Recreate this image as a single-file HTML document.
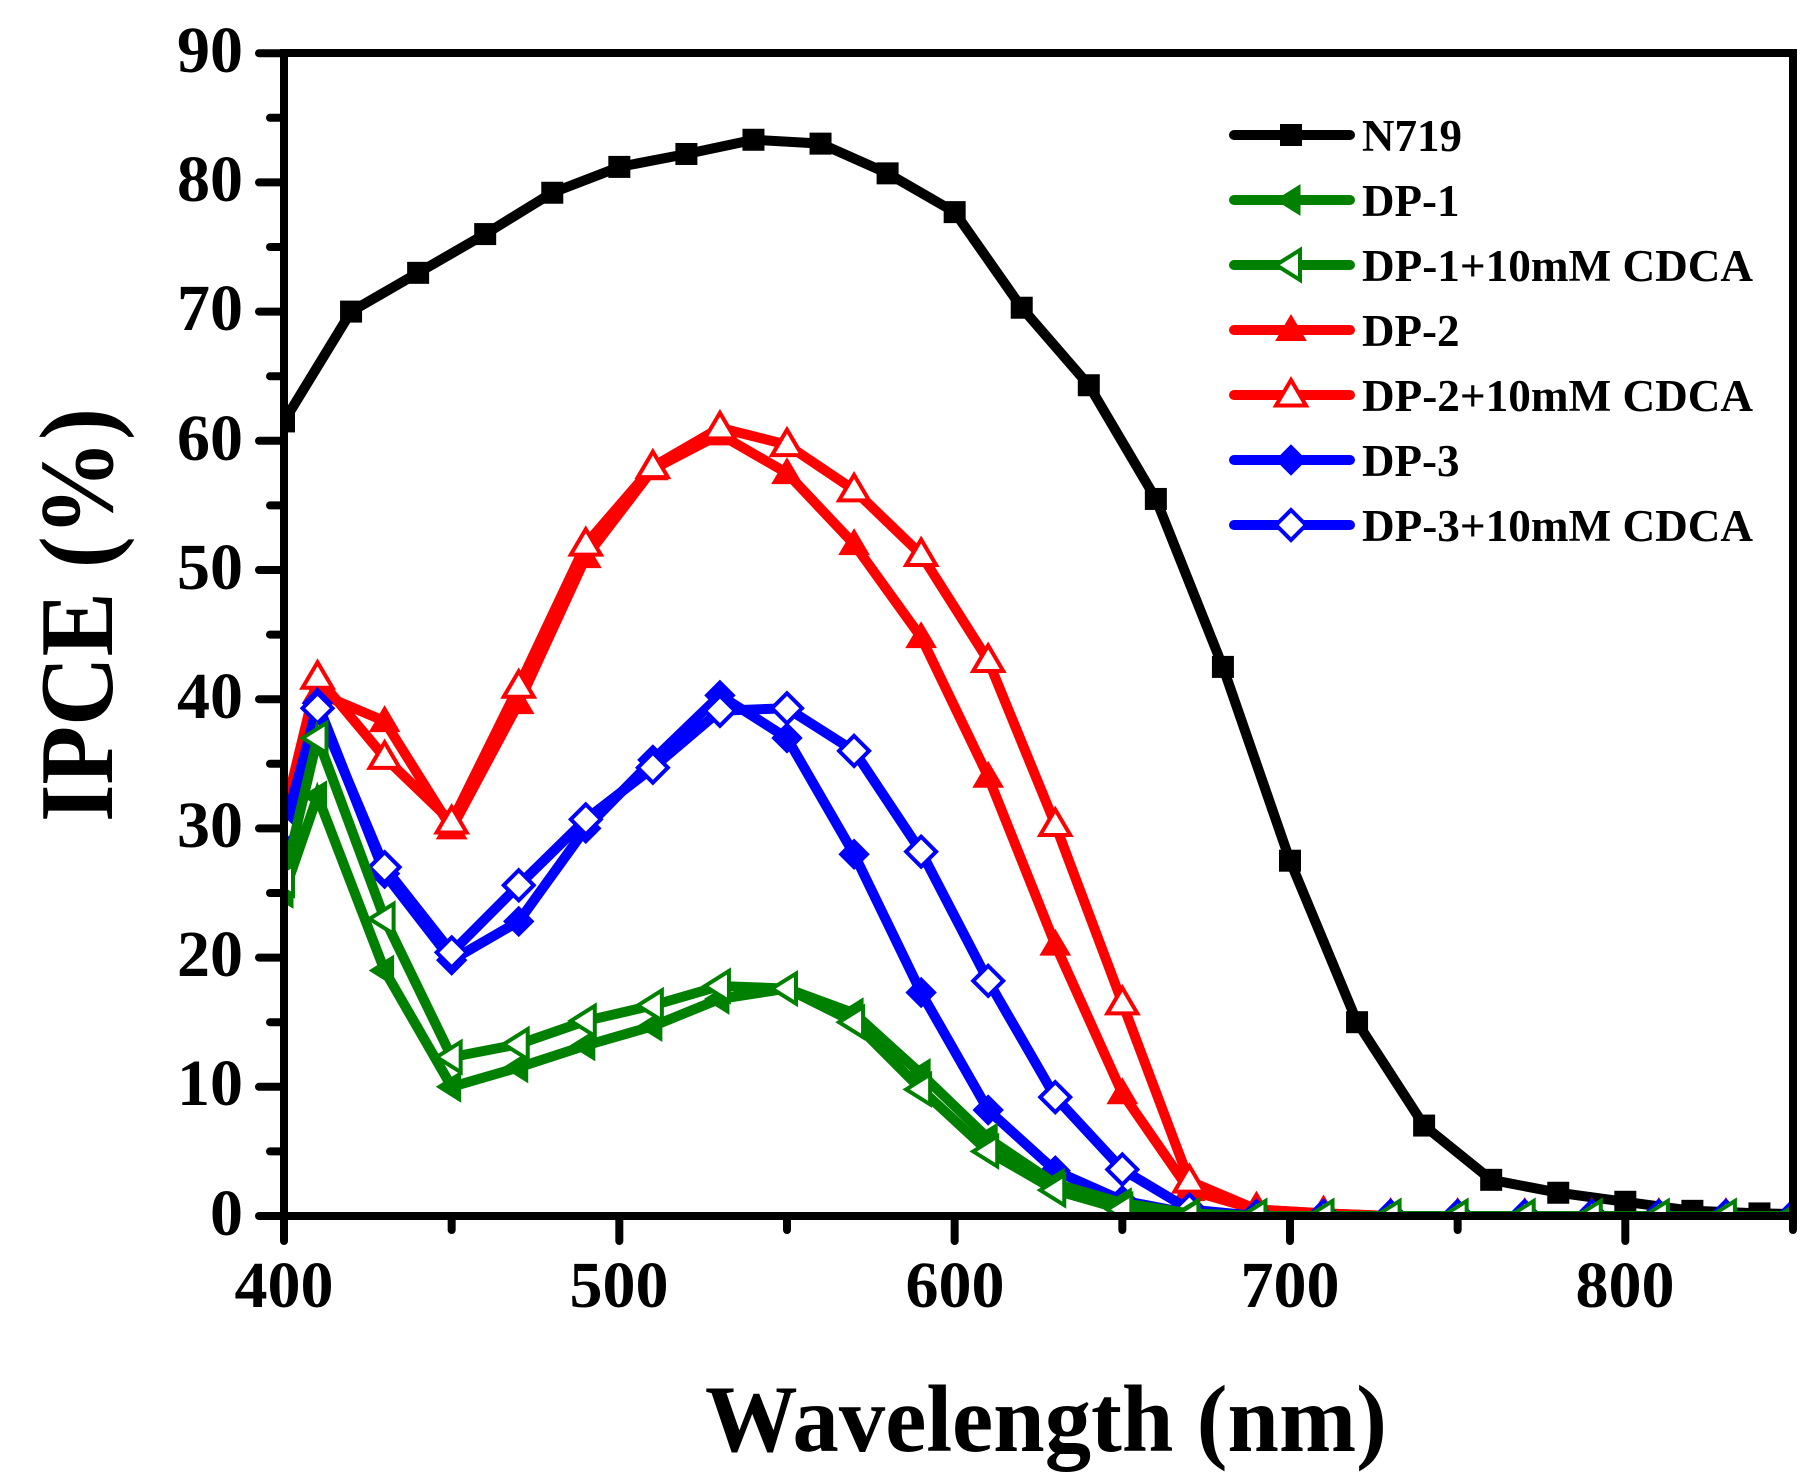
<!DOCTYPE html>
<html><head><meta charset="utf-8"><style>
html,body{margin:0;padding:0;background:#fff;}
svg{display:block;}
text{font-family:"Liberation Serif",serif;font-weight:bold;fill:#000;}
</style></head><body>
<svg id="s" width="1818" height="1479" viewBox="0 0 1818 1479" xmlns="http://www.w3.org/2000/svg">
<defs><clipPath id="c"><rect x="284" y="53" width="1509" height="1163"/></clipPath></defs>
<g id="series" clip-path="url(#c)"></g>
<g id="axes" stroke="#000" stroke-width="8" stroke-linecap="round" fill="none">
<rect x="284" y="53" width="1509" height="1163"/>
</g>
<g font-size="66" text-anchor="end">
<text x="243" y="72">90</text><text x="243" y="201">80</text><text x="243" y="330">70</text>
<text x="243" y="460">60</text><text x="243" y="589">50</text><text x="243" y="718">40</text>
<text x="243" y="847">30</text><text x="243" y="976">20</text><text x="243" y="1105">10</text>
<text x="243" y="1235">0</text>
</g>
<g font-size="66" text-anchor="middle">
<text x="284" y="1307">400</text><text x="619" y="1307">500</text><text x="955" y="1307">600</text>
<text x="1290" y="1307">700</text><text x="1625" y="1307">800</text>
</g>
<text x="1046" y="1451" font-size="95" text-anchor="middle" textLength="682" lengthAdjust="spacingAndGlyphs">Wavelength (nm)</text>
<text transform="translate(112,615) rotate(-90)" font-size="105" text-anchor="middle" textLength="414" lengthAdjust="spacingAndGlyphs">IPCE (%)</text>
<g id="legend"></g>
<g font-size="45">
<text x="1362" y="151">N719</text>
<text x="1362" y="216">DP-1</text>
<text x="1362" y="281" textLength="391" lengthAdjust="spacingAndGlyphs">DP-1+10mM CDCA</text>
<text x="1362" y="346">DP-2</text>
<text x="1362" y="411" textLength="391" lengthAdjust="spacingAndGlyphs">DP-2+10mM CDCA</text>
<text x="1362" y="476">DP-3</text>
<text x="1362" y="541" textLength="391" lengthAdjust="spacingAndGlyphs">DP-3+10mM CDCA</text>
</g>
</svg>
<script>
var NS="http://www.w3.org/2000/svg";
function X(n){return 284+(n-400)*3.3533;}
function Y(v){return 1216-v*12.92;}
function el(t,a,p){var e=document.createElementNS(NS,t);for(var k in a)e.setAttribute(k,a[k]);p.appendChild(e);return e;}
var axes=document.getElementById('axes');
for(var v=0;v<=90;v+=5){var L=(v%10==0)?25:14;el('line',{x1:284-L,y1:Y(v),x2:284,y2:Y(v)},axes);}
for(var n=400;n<=850;n+=50){var L=(n%100==0)?25:14;el('line',{x1:X(n),y1:1216,x2:X(n),y2:1216+L},axes);}
function marker(type,x,y,col,p){
 var s=15,fill=type.indexOf('o')==0?'#fff':col,sw=type.indexOf('o')==0?4:1;
 var t=type.replace(/^o/,'');var pts;
 if(t=='sq'){el('rect',{x:x-11,y:y-11,width:22,height:22,fill:col},p);return;}
 if(t=='lt')pts=[[x-s,y],[x+s*0.6,y-s],[x+s*0.6,y+s]];
 if(t=='up')pts=[[x,y-s],[x-s,y+s*0.7],[x+s,y+s*0.7]];
 if(t=='di')pts=[[x,y-s],[x+s,y],[x,y+s],[x-s,y]];
 el('polygon',{points:pts.map(function(q){return q.join(',')}).join(' '),fill:fill,stroke:col,'stroke-width':sw,'stroke-linejoin':'miter'},p);
}
var dpx=[400,410,430,450,470,490,510,530,550,570,590,610,630,650,670,690,710,730,750,770,790,810,830,850];
function pad(a){while(a.length<dpx.length)a.push(0);return a;}
var S=[
 {c:'#000',m:'sq',x:[400,420,440,460,480,500,520,540,560,580,600,620,640,660,680,700,720,740,760,780,800,820,840,860],
  y:[61.5,70,73,76,79.2,81.2,82.2,83.3,83,80.7,77.7,70.3,64.3,55.5,42.5,27.5,15,7,2.8,1.8,1.1,0.4,0.2,0.1]},
 {c:'#ff0000',m:'up',x:dpx,y:pad([31,40.5,38.3,30,39.7,51,57.8,60.5,57.5,52,44.8,34,21,9.5,2,0.5,0.2])},
 {c:'#ff0000',m:'oup',x:dpx,y:pad([31,41.7,35.5,30.5,41,52,58,61,59.7,56.2,51.2,43,30.3,16.5,2.7,0.5,0.2])},
 {c:'#0000ff',m:'di',x:dpx,y:pad([29,39.7,26.5,19.8,22.8,30,35.3,40.3,37,28,17.3,8.2,3.5,1.2,0.2])},
 {c:'#0000ff',m:'odi',x:dpx,y:pad([30,39.3,27,20.4,25.6,30.7,34.7,39.1,39.3,36,28.2,18.2,9.2,3.6,0.5])},
 {c:'#008000',m:'lt',x:dpx,y:pad([25,32.5,19,10,11.5,13.2,14.7,16.8,17.6,15.7,11,6,2.5,1,0.2])},
 {c:'#008000',m:'olt',x:dpx,y:pad([26,37,23,12.3,13.3,15.1,16.3,17.8,17.6,15,9.8,5,2,0.5,0])}
];
var g=document.getElementById('series');
S.forEach(function(s){
 var d=s.x.map(function(n,i){return (i?'L':'M')+X(n).toFixed(1)+','+Y(s.y[i]).toFixed(1)}).join('');
 el('path',{d:d,fill:'none',stroke:s.c,'stroke-width':10,'stroke-linejoin':'miter'},g);
 s.x.forEach(function(n,i){marker(s.m,X(n),Y(s.y[i]),s.c,g);});
});
var lg=document.getElementById('legend');
var rows=[135,200,265,330,395,460,525];
S.forEach(function(s,i){
 var order=[0,5,6,1,2,3,4];
 var t=S[order[i]];
 el('line',{x1:1234,y1:rows[i],x2:1350,y2:rows[i],stroke:t.c,'stroke-width':10,'stroke-linecap':'round'},lg);
 marker(t.m,1291,rows[i],t.c,lg);
});
</script>
</body></html>
